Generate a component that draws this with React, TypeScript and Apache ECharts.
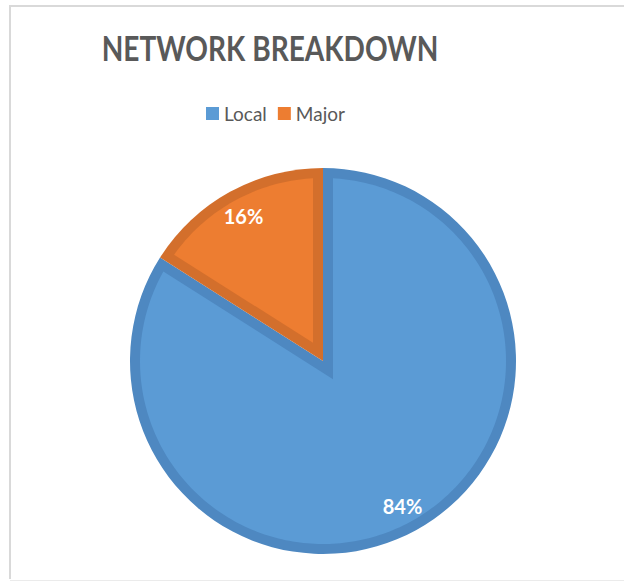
import React, { useEffect, useRef } from "react";
import * as echarts from "echarts";

const titleText = "NETWORK BREAKDOWN";
const categories = ["Local", "Major"];
const values = [84, 16];

const fillColors = ["#5B9BD5", "#ED7D31"];
const borderColors = ["#4E88C1", "#D36F2C"];

const CX = 323;
const CY = 361;
const R = 193;
const D = 10;
const LABEL_R = 165;

export default function App() {
  const ref = useRef<HTMLDivElement>(null);
  useEffect(() => {
    if (!ref.current) return;
    const chart = echarts.init(ref.current, null, { renderer: "svg" });
    const total = values.reduce((a, b) => a + b, 0);

    const renderItem = (params: any, api: any) => {
      const i = params.dataIndex;
      const v = api.value(0);
      let cum = 0;
      for (let k = 0; k < i; k++) cum += values[k];
      const a0 = -Math.PI / 2 + (cum / total) * Math.PI * 2;
      const a1 = a0 + (v / total) * Math.PI * 2;
      const theta = a1 - a0;
      const bis = (a0 + a1) / 2;
      const apexDist = D / Math.sin(theta / 2);
      const pts: number[][] = [];
      pts.push([CX + apexDist * Math.cos(bis), CY + apexDist * Math.sin(bis)]);
      const ri = R - D;
      const dl = Math.asin(D / ri);
      const s = a0 + dl;
      const e = a1 - dl;
      const n = Math.max(8, Math.ceil((e - s) / 0.02));
      for (let k = 0; k <= n; k++) {
        const a = s + ((e - s) * k) / n;
        pts.push([CX + ri * Math.cos(a), CY + ri * Math.sin(a)]);
      }
      const lx = CX + LABEL_R * Math.cos(bis);
      const ly = CY + LABEL_R * Math.sin(bis);
      return {
        type: "group",
        children: [
          {
            type: "polygon",
            shape: { points: pts },
            style: { fill: fillColors[i], stroke: null },
          },
          {
            type: "text",
            x: lx,
            y: ly,
            style: {
              text: Math.round((v / total) * 100) + "%",
              fill: "#ffffff",
              fontFamily: "Lato",
              fontWeight: "bold",
              fontSize: 20,
              align: "center",
              verticalAlign: "middle",
            },
          },
        ],
      };
    };

    chart.setOption({
      animation: false,
      backgroundColor: "#ffffff",
      legend: {
        data: categories.map((c, i) => ({ name: c, itemStyle: { color: fillColors[i] } })),
        left: 206,
        top: 104,
        padding: 0,
        icon: "rect",
        itemWidth: 13,
        itemHeight: 13,
        itemGap: 11,
        selectedMode: false,
        textStyle: { fontFamily: "Lato", fontSize: 19, color: "#595959" },
      },
      graphic: [
        {
          type: "polyline",
          shape: { points: [[720, 6], [10, 6], [10, 579]] },
          style: { fill: "none", stroke: "#D9D9D9", lineWidth: 2 },
          silent: true,
          z: 0,
        },
        {
          type: "line",
          shape: { x1: 10, y1: 580.5, x2: 720, y2: 580.5 },
          style: { stroke: "#EBEBEB", lineWidth: 1 },
          silent: true,
          z: 0,
        },
        {
          type: "text",
          x: 270,
          y: 31,
          scaleX: 0.826,
          style: {
            text: titleText,
            fontFamily: "Lato",
            fontWeight: "bold",
            fontSize: 34,
            fill: "#595959",
            align: "center",
            verticalAlign: "top",
          },
          z: 5,
        },
      ],
      series: [
        {
          type: "pie",
          name: "Network",
          center: [CX, CY],
          radius: R,
          startAngle: 90,
          clockwise: true,
          silent: true,
          label: { show: false },
          labelLine: { show: false },
          itemStyle: { borderWidth: 0 },
          data: categories.map((c, i) => ({
            name: c,
            value: values[i],
            itemStyle: { color: borderColors[i] },
          })),
          z: 2,
        },
        {
          type: "custom",
          name: "inner",
          coordinateSystem: "none",
          silent: true,
          data: values.map((v) => [v]),
          renderItem,
          z: 3,
        },
      ],
    });
    return () => chart.dispose();
  }, []);
  return (
    <div
      ref={ref}
      style={{ position: "fixed", left: 0, top: 0, width: 624, height: 581 }}
    />
  );
}
